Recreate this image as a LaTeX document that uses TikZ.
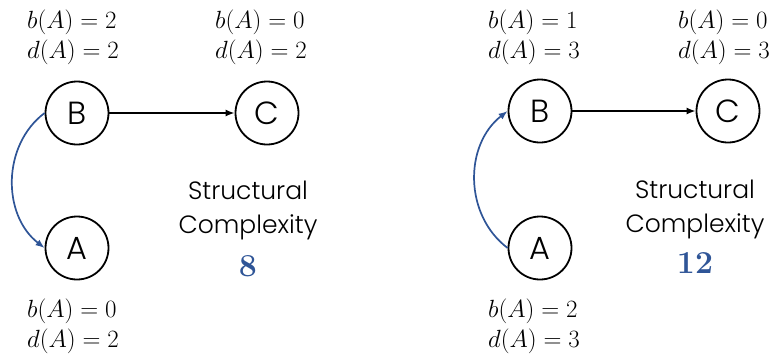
\documentclass[tikz,border=0pt]{standalone}
\usepackage{fontspec}
\newfontfamily\gothic{Poppins Light}
\usetikzlibrary{arrows.meta}
\definecolor{scoreblue}{RGB}{47,85,151}
\definecolor{edgeblue}{RGB}{47,85,151}
\begin{document}
\begin{tikzpicture}[x=1pt,y=-1pt,
  vert/.style={circle,draw,line width=1.8pt,minimum size=63pt,inner sep=0pt,font=\gothic\fontsize{32}{32}\selectfont},
  lab/.style={align=left,font=\fontsize{26}{30}\selectfont},
  ttl/.style={align=center,font=\gothic\fontsize{25}{34}\selectfont},
  score/.style={text=scoreblue,font=\bfseries\fontsize{32}{32}\selectfont},
  edge/.style={line width=1.6pt,-{Latex[length=9pt,width=7pt]}},
  bedge/.style={draw=edgeblue,line width=1.7pt,-{Latex[length=9pt,width=7pt]}}]
\useasboundingbox (0,0) rectangle (774,354);
% left panel
\node[vert] (B1) at (77,113) {B};
\node[vert] (C1) at (267,113) {C};
\node[vert] (A1) at (77,248) {A};
\node[lab] (lb1) at (73,37) {$b(A)=2$\\$d(A)=2$};
\node[lab] (lc1) at (261,37) {$b(A)=0$\\$d(A)=2$};
\node[lab] (la1) at (73,326) {$b(A)=0$\\$d(A)=2$};
\node[ttl] (t1) at (248,210) {Structural\\Complexity};
\node[score] (s1) at (248,266) {8};
\draw[edge] (B1) -- (C1);
\draw[bedge] (B1.west) .. controls (2,145) and (2,215) .. (A1.west);
% right panel
\node[vert] (B2) at (540,111) {B};
\node[vert] (C2) at (728,111) {C};
\node[vert] (A2) at (540,248) {A};
\node[lab] (lb2) at (534,37) {$b(A)=1$\\$d(A)=3$};
\node[lab] (lc2) at (724,37) {$b(A)=0$\\$d(A)=3$};
\node[lab] (la2) at (534,326) {$b(A)=2$\\$d(A)=3$};
\node[ttl] (t2) at (695,209) {Structural\\Complexity};
\node[score] (s2) at (695,263) {12};
\draw[edge] (B2) -- (C2);
\draw[bedge] (A2.west) .. controls (464,215) and (464,145) .. (B2.west);
\end{tikzpicture}
\end{document}
